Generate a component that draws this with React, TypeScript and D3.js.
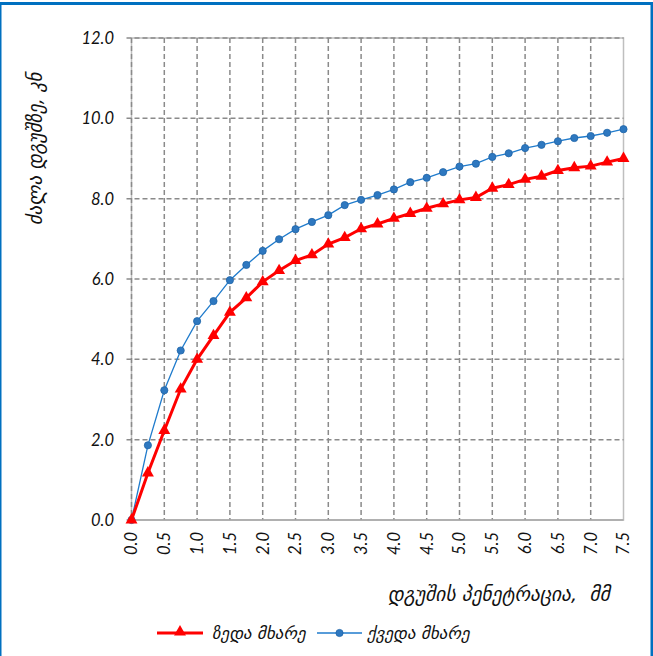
import React from "react";
import * as d3 from "d3";

// Piston penetration, mm
const penetration = [
  0, 0.25, 0.5, 0.75, 1.0, 1.25, 1.5, 1.75, 2.0, 2.25, 2.5, 2.75, 3.0, 3.25, 3.5, 3.75,
  4.0, 4.25, 4.5, 4.75, 5.0, 5.25, 5.5, 5.75, 6.0, 6.25, 6.5, 6.75, 7.0, 7.25, 7.5,
];
// Force on the piston, kN — top side
const topSide = [
  0, 1.17, 2.23, 3.26, 4.0, 4.59, 5.17, 5.53, 5.93, 6.21, 6.46, 6.6, 6.87, 7.03, 7.25, 7.37,
  7.51, 7.63, 7.76, 7.87, 7.97, 8.03, 8.26, 8.35, 8.48, 8.56, 8.7, 8.77, 8.81, 8.91, 9.0,
];
// Force on the piston, kN — bottom side
const bottomSide = [
  0, 1.86, 3.23, 4.22, 4.95, 5.45, 5.97, 6.35, 6.7, 6.99, 7.24, 7.42, 7.59, 7.84, 7.97, 8.09,
  8.23, 8.41, 8.52, 8.66, 8.8, 8.87, 9.04, 9.13, 9.26, 9.34, 9.43, 9.51, 9.56, 9.64, 9.73,
];
const xTicks = [0, 0.5, 1, 1.5, 2, 2.5, 3, 3.5, 4, 4.5, 5, 5.5, 6, 6.5, 7, 7.5];
const yTicks = [0, 2, 4, 6, 8, 10, 12];
const seriesNames = ["ზედა მხარე", "ქვედა მხარე"];
const yTitle = "ძალა დგუშზე, კნ";
const xTitle = "დგუშის პენეტრაცია,\u00a0\u00a0მმ";

const W = 653;
const H = 656;
const RED = "#ff0000";
const BLUE_LINE = "#1f7bcc";
const BLUE_MARK = "#2e78c0";
const FONT = "Lato, 'DejaVu Sans', sans-serif";
const GEO_FONT = "'DejaVu Sans', sans-serif";

export default function App() {
  const x = d3.scaleLinear().domain([0, 7.5]).range([131.5, 623.5]);
  const y = d3.scaleLinear().domain([0, 12]).range([520, 38]);

  const line = d3
    .line<number>()
    .x((_, i) => x(penetration[i]))
    .y((d) => y(d));

  const tri = d3.symbol().type(d3.symbolTriangle).size(62)() as string;

  const [x0, x1] = x.range();
  const [yb, yt] = y.range();

  return (
    <svg
      width={W}
      height={H}
      style={{ position: "fixed", left: 0, top: 0, background: "#fff" }}
      xmlns="http://www.w3.org/2000/svg"
    >
      <rect x={0} y={0} width={W} height={H} fill="#fff" />
      {/* outer frame */}
      <rect x={0} y={2} width={W} height={3} fill="#0070c0" />
      <rect x={0} y={2} width={1.5} height={H - 2} fill="#0070c0" />
      <rect x={W - 2.5} y={2} width={2.5} height={H - 2} fill="#0070c0" />

      {/* plot border */}
      <rect x={x0} y={yt} width={x1 - x0} height={yb - yt} fill="none" stroke="#bfbfbf" strokeWidth={1.5} />

      {/* horizontal grid */}
      {yTicks.filter((t) => t > 0).map((t) => (
        <line
          key={"gy" + t}
          x1={x0 - 5}
          x2={x1}
          y1={y(t)}
          y2={y(t)}
          stroke="#8a8a8a"
          strokeWidth={1.5}
          strokeDasharray="5,3"
        />
      ))}
      {/* vertical grid */}
      {xTicks.filter((t) => t < 7.5).map((t) => (
        <line
          key={"gx" + t}
          x1={x(t)}
          x2={x(t)}
          y1={yt}
          y2={yb}
          stroke="#8a8a8a"
          strokeWidth={1.5}
          strokeDasharray="5,3"
        />
      ))}
      {/* bottom axis */}
      <line x1={x0 - 5} x2={x1} y1={yb} y2={yb} stroke="#a6a6a6" strokeWidth={1.5} />

      {/* y tick labels */}
      {yTicks.map((t) => (
        <text
          key={"ty" + t}
          x={114}
          y={y(t) + 6}
          textAnchor="end"
          fontFamily={FONT}
          fontStyle="italic"
          fontSize={16.5}
          fill="#111"
        >
          {t.toFixed(1)}
        </text>
      ))}
      {/* x tick labels */}
      {xTicks.map((t) => (
        <text
          key={"tx" + t}
          transform={`translate(${x(t)},${yb + 12}) rotate(-90)`}
          dy="0.36em"
          textAnchor="end"
          fontFamily={FONT}
          fontStyle="italic"
          fontSize={16.5}
          fill="#111"
        >
          {t.toFixed(1)}
        </text>
      ))}

      {/* series: bottom side */}
      <path d={line(bottomSide) as string} fill="none" stroke={BLUE_LINE} strokeWidth={1.3} />
      {bottomSide.map((v, i) => (
        <circle
          key={"b" + i}
          cx={x(penetration[i])}
          cy={y(v)}
          r={3.6}
          fill={BLUE_MARK}
          stroke="#1e64a8"
          strokeWidth={0.8}
        />
      ))}
      {/* series: top side */}
      <path d={line(topSide) as string} fill="none" stroke={RED} strokeWidth={3} />
      {topSide.map((v, i) => (
        <path key={"t" + i} d={tri} transform={`translate(${x(penetration[i])},${y(v)})`} fill={RED} />
      ))}

      {/* axis titles */}
      <text
        transform={`translate(42,149) rotate(-90)`}
        textAnchor="middle"
        fontFamily={GEO_FONT}
        fontStyle="italic"
        fontSize={19}
        fill="#111"
      >
        {yTitle}
      </text>
      <text x={610} y={601} textAnchor="end" fontFamily={GEO_FONT} fontStyle="italic" fontSize={19.5} fill="#111">
        {xTitle}
      </text>

      {/* legend */}
      <g>
        <line x1={157} x2={203} y1={633} y2={633} stroke={RED} strokeWidth={3} />
        <path d={tri} transform="translate(180,632)" fill={RED} />
        <text x={212} y={638.5} fontFamily={GEO_FONT} fontStyle="italic" fontSize={17} fill="#111">
          {seriesNames[0]}
        </text>
        <line x1={317} x2={362} y1={633} y2={633} stroke={BLUE_LINE} strokeWidth={1.3} />
        <circle cx={339.5} cy={633} r={3.6} fill={BLUE_MARK} stroke="#1e64a8" strokeWidth={0.8} />
        <text x={367} y={638.5} fontFamily={GEO_FONT} fontStyle="italic" fontSize={17} fill="#111">
          {seriesNames[1]}
        </text>
      </g>
    </svg>
  );
}
